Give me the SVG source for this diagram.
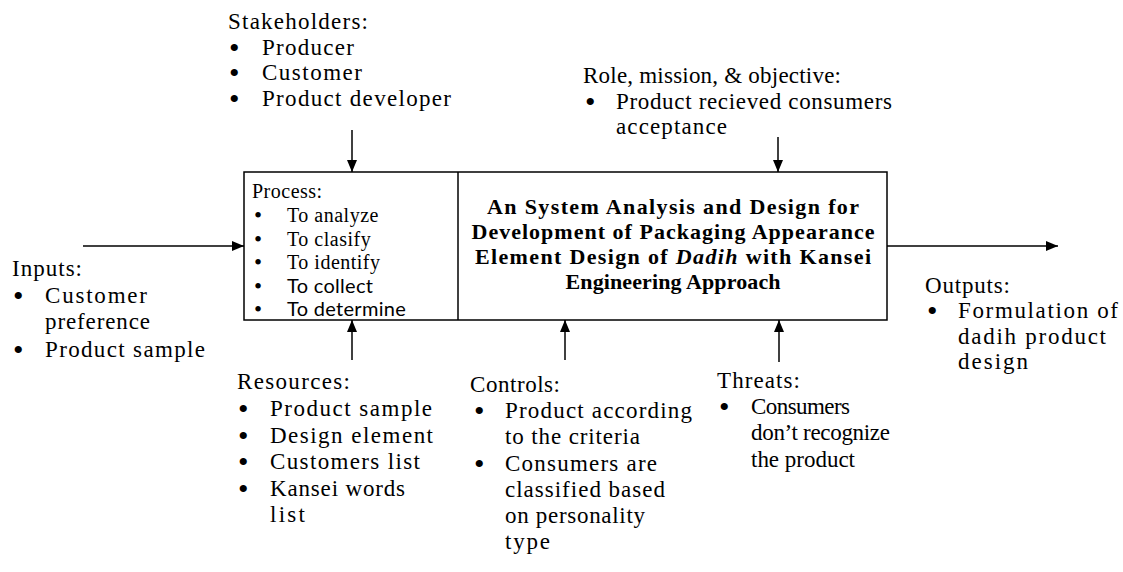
<svg xmlns="http://www.w3.org/2000/svg" width="1123" height="572" viewBox="0 0 1123 572">
  <defs>
    <marker id="arrow" viewBox="0 0 12 10" refX="12" refY="5" markerWidth="12" markerHeight="10" markerUnits="userSpaceOnUse" orient="auto">
      <path d="M0,0 L12,5 L0,10 Z" fill="#000"/>
    </marker>
    <style>
      .lbl { font-family: "Liberation Serif", "Times New Roman", serif; font-size: 23px; fill: #000; }
      .proc { font-family: "Liberation Serif", "Times New Roman", serif; font-size: 20px; letter-spacing: 0.5px; fill: #000; }
      .procs { font-family: Lato, "Open Sans", sans-serif; font-size: 20px; letter-spacing: 0.3px; fill: #000; }
      .title { font-family: "Liberation Serif", "Times New Roman", serif; font-size: 22px; font-weight: bold; fill: #000; text-anchor: middle; }
      .bul { font-family: "Liberation Serif", "Times New Roman", serif; font-size: 30px; fill: #000; }
      .bulp { font-family: "Liberation Serif", "Times New Roman", serif; font-size: 23px; fill: #000; }
      .box { fill: #fff; stroke: #000; stroke-width: 1.5; }
      .conn { stroke: #000; stroke-width: 1.5; fill: none; marker-end: url(#arrow); }
    </style>
  </defs>
  <rect width="1123" height="572" fill="#fff"/>

  <!-- central system box: process panel + title panel -->
  <g id="system">
    <rect class="box" x="244" y="172" width="643" height="148"/>
    <line x1="458" y1="172" x2="458" y2="320" stroke="#000" stroke-width="1.5"/>
  </g>

  <g id="process">
    <text class="proc" x="252" y="198">Process:</text>
    <text class="bulp" x="254" y="223">•</text><text class="proc" x="287" y="222">To analyze</text>
    <text class="bulp" x="254" y="247">•</text><text class="proc" x="287" y="246">To clasify</text>
    <text class="bulp" x="254" y="270">•</text><text class="proc" x="287" y="269">To identify</text>
    <text class="bulp" x="254" y="294">•</text><text class="procs" x="287" y="293">To collect</text>
    <text class="bulp" x="254" y="317">•</text><text class="procs" x="287" y="316">To determine</text>
  </g>

  <g id="title">
    <text class="title" x="673" y="214" textLength="372" lengthAdjust="spacing">An System Analysis and Design for</text>
    <text class="title" x="673" y="239" textLength="403" lengthAdjust="spacing">Development of Packaging Appearance</text>
    <text class="title" x="673" y="264" textLength="396" lengthAdjust="spacing">Element Design of <tspan font-style="italic">Dadih</tspan> with Kansei</text>
    <text class="title" x="673" y="289" textLength="215" lengthAdjust="spacing">Engineering Approach</text>
  </g>

  <!-- connectors -->
  <g id="connectors">
    <line class="conn" x1="83" y1="246" x2="244" y2="246"/>
    <line class="conn" x1="887" y1="246" x2="1058" y2="246"/>
    <line class="conn" x1="352" y1="130" x2="352" y2="172"/>
    <line class="conn" x1="778" y1="137" x2="778" y2="172"/>
    <line class="conn" x1="352" y1="360" x2="352" y2="320"/>
    <line class="conn" x1="565" y1="360" x2="565" y2="320"/>
    <line class="conn" x1="779" y1="362" x2="779" y2="320"/>
  </g>

  <g id="stakeholders">
    <text class="lbl" x="228" y="29" textLength="140" lengthAdjust="spacing">Stakeholders:</text>
    <text class="bul" x="229" y="58">•</text><text class="lbl" x="262" y="55" textLength="92" lengthAdjust="spacing">Producer</text>
    <text class="bul" x="229" y="83">•</text><text class="lbl" x="262" y="80" textLength="100" lengthAdjust="spacing">Customer</text>
    <text class="bul" x="229" y="109">•</text><text class="lbl" x="262" y="106" textLength="189" lengthAdjust="spacing">Product developer</text>
  </g>

  <g id="role">
    <text class="lbl" x="583" y="83" textLength="258" lengthAdjust="spacing">Role, mission, &amp; objective:</text>
    <text class="bul" x="585" y="112">•</text><text class="lbl" x="616" y="109" textLength="276" lengthAdjust="spacing">Product recieved consumers</text>
    <text class="lbl" x="616" y="134" textLength="111" lengthAdjust="spacing">acceptance</text>
  </g>

  <g id="inputs">
    <text class="lbl" x="12" y="276" textLength="70" lengthAdjust="spacing">Inputs:</text>
    <text class="bul" x="13" y="306">•</text><text class="lbl" x="45" y="303" textLength="102" lengthAdjust="spacing">Customer</text>
    <text class="lbl" x="45" y="329" textLength="105" lengthAdjust="spacing">preference</text>
    <text class="bul" x="13" y="360">•</text><text class="lbl" x="45" y="357" textLength="160" lengthAdjust="spacing">Product sample</text>
  </g>

  <g id="outputs">
    <text class="lbl" x="925" y="293" textLength="85" lengthAdjust="spacing">Outputs:</text>
    <text class="bul" x="927" y="321">•</text><text class="lbl" x="958" y="318" textLength="160" lengthAdjust="spacing">Formulation of</text>
    <text class="lbl" x="958" y="344" textLength="148" lengthAdjust="spacing">dadih product</text>
    <text class="lbl" x="958" y="369" textLength="70" lengthAdjust="spacing">design</text>
  </g>

  <g id="resources">
    <text class="lbl" x="237" y="389" textLength="113" lengthAdjust="spacing">Resources:</text>
    <text class="bul" x="238" y="419">•</text><text class="lbl" x="270" y="416" textLength="162" lengthAdjust="spacing">Product sample</text>
    <text class="bul" x="238" y="446">•</text><text class="lbl" x="270" y="443" textLength="163" lengthAdjust="spacing">Design element</text>
    <text class="bul" x="238" y="472">•</text><text class="lbl" x="270" y="469" textLength="150" lengthAdjust="spacing">Customers list</text>
    <text class="bul" x="238" y="499">•</text><text class="lbl" x="270" y="496" textLength="135" lengthAdjust="spacing">Kansei words</text>
    <text class="lbl" x="270" y="522" textLength="35" lengthAdjust="spacing">list</text>
  </g>

  <g id="controls">
    <text class="lbl" x="470" y="392" textLength="90" lengthAdjust="spacing">Controls:</text>
    <text class="bul" x="474" y="421">•</text><text class="lbl" x="505" y="418" textLength="187" lengthAdjust="spacing">Product according</text>
    <text class="lbl" x="505" y="444" textLength="135" lengthAdjust="spacing">to the criteria</text>
    <text class="bul" x="474" y="474">•</text><text class="lbl" x="505" y="471" textLength="152" lengthAdjust="spacing">Consumers are</text>
    <text class="lbl" x="505" y="497" textLength="160" lengthAdjust="spacing">classified based</text>
    <text class="lbl" x="505" y="523" textLength="140" lengthAdjust="spacing">on personality</text>
    <text class="lbl" x="505" y="549" textLength="45" lengthAdjust="spacing">type</text>
  </g>

  <g id="threats">
    <text class="lbl" x="717" y="388" textLength="83" lengthAdjust="spacing">Threats:</text>
    <text class="bul" x="719" y="417">•</text><text class="lbl" x="751" y="414" textLength="99" lengthAdjust="spacing">Consumers</text>
    <text class="lbl" x="751" y="440" textLength="139" lengthAdjust="spacing">don’t recognize</text>
    <text class="lbl" x="751" y="467" textLength="104" lengthAdjust="spacing">the product</text>
  </g>
</svg>
